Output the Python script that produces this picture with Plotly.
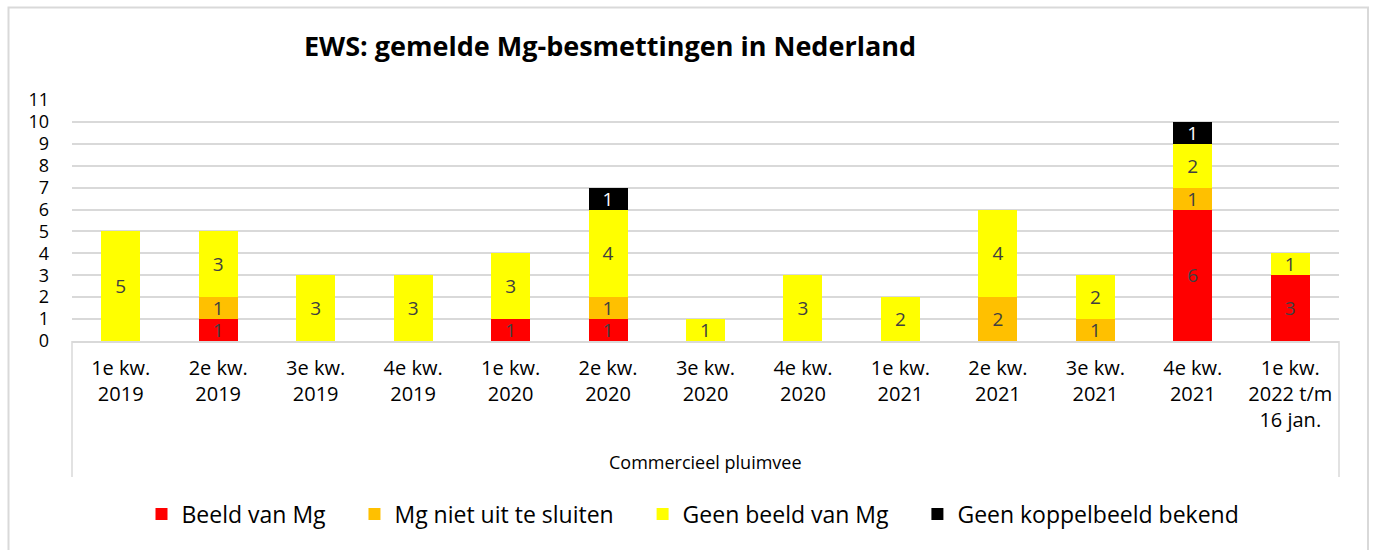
import plotly.graph_objects as go

categories = ["1e kw.<br>2019", "2e kw.<br>2019", "3e kw.<br>2019", "4e kw.<br>2019",
              "1e kw.<br>2020", "2e kw.<br>2020", "3e kw.<br>2020", "4e kw.<br>2020",
              "1e kw.<br>2021", "2e kw.<br>2021", "3e kw.<br>2021", "4e kw.<br>2021",
              "1e kw.<br>2022 t/m<br>16 jan."]
beeld_van_mg = [0, 1, 0, 0, 1, 1, 0, 0, 0, 0, 0, 6, 3]
mg_niet_uit_te_sluiten = [0, 1, 0, 0, 0, 1, 0, 0, 0, 2, 1, 1, 0]
geen_beeld_van_mg = [5, 3, 3, 3, 3, 4, 1, 3, 2, 4, 2, 2, 1]
geen_koppelbeeld = [0, 0, 0, 0, 0, 1, 0, 0, 0, 0, 0, 1, 0]

series = [
    ("Beeld van Mg", beeld_van_mg, "#FF0000", "#404040"),
    ("Mg niet uit te sluiten", mg_niet_uit_te_sluiten, "#FFC000", "#404040"),
    ("Geen beeld van Mg", geen_beeld_van_mg, "#FFFF00", "#404040"),
    ("Geen koppelbeeld bekend", geen_koppelbeeld, "#000000", "#FFFFFF"),
]

FONT = "Open Sans"
PAD = "\u00a0" * 4
fig = go.Figure()
xs = list(range(len(categories)))
for i, (name, vals, color, tcolor) in enumerate(series):
    y = [v if v else None for v in vals]
    t = [str(v) if v else "" for v in vals]
    legend_name = name + (PAD if i < len(series) - 1 else "")
    fig.add_trace(go.Bar(
        x=xs, y=y, name=legend_name, text=t,
        marker=dict(color=color, line=dict(width=0)),
        textposition="inside", insidetextanchor="middle", textangle=0,
        textfont=dict(color=tcolor, size=19, family=FONT),
        constraintext="none", hoverinfo="skip",
    ))

L, R, T, B = 72, 35, 100, 209
W, H = 1374, 550
pw, ph = W - L - R, H - T - B

def px_x(x):
    return (x - L) / pw

def px_y(y):
    return (H - B - y) / ph

shapes = [
    dict(type="line", xref="paper", yref="paper", x0=0, x1=0, y0=0, y1=px_y(477),
         line=dict(color="#D9D9D9", width=1.5)),
    dict(type="line", xref="paper", yref="paper", x0=1, x1=1, y0=0, y1=px_y(477),
         line=dict(color="#D9D9D9", width=1.5)),
    dict(type="rect", xref="paper", yref="paper", x0=px_x(8.5), x1=px_x(1368), y0=px_y(7.5), y1=px_y(560),
         line=dict(color="#D9D9D9", width=2), layer="below"),
]

fig.update_layout(
    width=W, height=H,
    margin=dict(l=L, r=R, t=T, b=B),
    barmode="stack", bargap=0.6,
    paper_bgcolor="white", plot_bgcolor="white",
    font=dict(family=FONT, color="#000000"),
    title=dict(text="<b>EWS: gemelde Mg-besmettingen in Nederland</b>",
               x=610 / W, xanchor="center", xref="container",
               y=1 - 47 / H, yanchor="middle", yref="container",
               font=dict(size=27, family=FONT, color="#000000")),
    xaxis=dict(tickmode="array", tickvals=xs, ticktext=categories,
               range=[-0.5, len(categories) - 0.5],
               showgrid=False, showline=True, linecolor="#D9D9D9", linewidth=1.5,
               tickfont=dict(size=20, family=FONT, color="#000000"),
               ticks="", ticklabelstandoff=8),
    yaxis=dict(range=[0, 11], dtick=1, tick0=0, showgrid=True, gridcolor="#D9D9D9",
               gridwidth=1.5, zeroline=False, showline=False,
               tickfont=dict(size=18, family=FONT, color="#000000"),
               ticks="", ticklabelstandoff=22),
    legend=dict(orientation="h", x=px_x(693), xanchor="center", y=px_y(514), yanchor="middle",
                font=dict(size=23, family=FONT, color="#000000"), traceorder="normal",
                itemwidth=30),
    shapes=shapes,
    annotations=[dict(text="Commercieel pluimvee", xref="paper", yref="paper",
                      x=0.5, y=px_y(462), xanchor="center", yanchor="middle",
                      showarrow=False, font=dict(size=18, family=FONT, color="#000000"))],
)

fig.write_html("out.html", config={"displayModeBar": False},
               post_script="document.body.style.margin='0px';")
